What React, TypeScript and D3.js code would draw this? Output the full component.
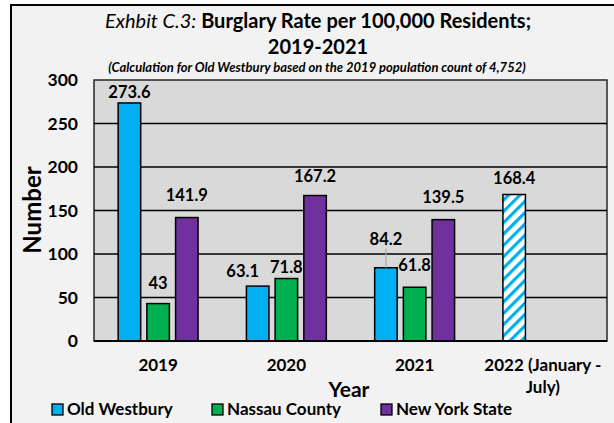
import React from "react";
import * as d3 from "d3";

const categories = ["2019", "2020", "2021", "2022 (January - July)"];
const categoryLines = [["2019"], ["2020"], ["2021"], ["2022 (January -", "July)"]];
const seriesNames = ["Old Westbury", "Nassau County", "New York State"];
const oldWestbury = [273.6, 63.1, 84.2, 168.4];
const nassauCounty = [43, 71.8, 61.8, null];
const newYorkState = [141.9, 167.2, 139.5, null];
const yTicks = [0, 50, 100, 150, 200, 250, 300];

// label placement tweaks (pixels), separate from data
const labelLift = [
  [5, 9, 23, 10],
  [15, 6, 16, 0],
  [17, 14, 17, 0],
];
const labelShift = [
  [0, -15, 0, 0],
  [0, 0, 0, 0],
  [0, 0, 0, 0],
];

const colors = ["#00b0f0", "#00b050", "#7030a0"];
const FONT = "Lato, 'Open Sans', sans-serif";

export default function App() {
  const W = 614, H = 423;
  const plot = { left: 94, right: 607, top: 80, bottom: 341 };
  const x = d3.scaleBand<string>().domain(categories).range([plot.left, plot.right]);
  const x1 = d3
    .scaleBand<string>()
    .domain(seriesNames)
    .range([-43.05, 43.05])
    .paddingInner(0.216)
    .paddingOuter(0.108);
  const y = d3.scaleLinear().domain([0, 300]).range([plot.bottom, plot.top]);
  const allSeries = [oldWestbury, nassauCounty, newYorkState];

  return (
    <div style={{ position: "fixed", left: 0, top: 0 }}>
      <svg width={W} height={H} style={{ display: "block", fontFamily: FONT }}>
        <defs>
          <pattern id="hatch" patternUnits="userSpaceOnUse" width="8" height="8" patternTransform="rotate(45)">
            <rect width="8" height="8" fill="#ffffff" />
            <rect x="0" y="0" width="3.2" height="8" fill="#00b0f0" />
          </pattern>
        </defs>
        <rect x={0} y={0} width={W} height={H} fill="#ffffff" />
        <rect x={11} y={5} width={W + 10} height={H + 10} fill="#f2f2f2" stroke="#000" strokeWidth={2} />
        {/* title */}
        <text x={318} y={28} textAnchor="middle" fontSize={20} fill="#000">
          <tspan fontStyle="italic">Exhbit C.3:</tspan>
          <tspan fontWeight="bold"> Burglary Rate per 100,000 Residents;</tspan>
        </text>
        <text x={318} y={54} textAnchor="middle" fontSize={20} fontWeight="bold" fill="#000">
          2019-2021
        </text>
        <text x={317} y={72} textAnchor="middle" fontSize={13} fontWeight="bold" fontStyle="italic" fill="#000">
          (Calculation for Old Westbury based on the 2019 population count of 4,752)
        </text>
        {/* plot area */}
        <rect
          x={plot.left}
          y={plot.top}
          width={plot.right - plot.left}
          height={plot.bottom - plot.top}
          fill="#d9d9d9"
          stroke="#262626"
          strokeWidth={1.5}
        />
        {yTicks.map((t) => (
          <g key={t}>
            {t > 0 && t < 300 && (
              <line x1={plot.left} x2={plot.right} y1={y(t)} y2={y(t)} stroke="#000" strokeWidth={1.3} />
            )}
            <text x={78} y={y(t) + 6} textAnchor="end" fontSize={17.5} fontWeight="bold" fill="#000">
              {t}
            </text>
          </g>
        ))}
        {/* bars */}
        {allSeries.map((vals, si) =>
          vals.map((v, ci) => {
            if (v == null) return null;
            const cat = categories[ci];
            const cx = (x(cat) as number) + x.bandwidth() / 2;
            const bx = cx + (x1(seriesNames[si]) as number);
            const bw = x1.bandwidth();
            const hatched = ci === 3;
            return (
              <rect
                key={`${si}-${ci}`}
                x={bx}
                y={y(v)}
                width={bw}
                height={y(0) - y(v)}
                fill={hatched ? "url(#hatch)" : colors[si]}
                stroke="#000"
                strokeWidth={1.5}
              />
            );
          })
        )}
        <line x1={plot.left} x2={plot.right} y1={y(0)} y2={y(0)} stroke="#000" strokeWidth={2} />
        {/* leader line for 84.2 */}
        {(() => {
          const cx = (x(categories[2]) as number) + x.bandwidth() / 2 + (x1(seriesNames[0]) as number) + x1.bandwidth() / 2;
          return <line x1={cx} x2={cx} y1={y(oldWestbury[2]) - labelLift[0][2] + 4} y2={y(oldWestbury[2])} stroke="#a6a6a6" strokeWidth={1.2} />;
        })()}
        {/* value labels */}
        {allSeries.map((vals, si) =>
          vals.map((v, ci) => {
            if (v == null) return null;
            const cat = categories[ci];
            const cx = (x(cat) as number) + x.bandwidth() / 2 + (x1(seriesNames[si]) as number) + x1.bandwidth() / 2;
            return (
              <text
                key={`l-${si}-${ci}`}
                x={cx + labelShift[si][ci]}
                y={y(v) - labelLift[si][ci]}
                textAnchor="middle"
                fontSize={16.5}
                fontWeight="bold"
                fill="#000"
              >
                {String(v)}
              </text>
            );
          })
        )}
        {/* category labels */}
        {categories.map((c, ci) => {
          const cx = (x(c) as number) + x.bandwidth() / 2;
          return (
            <text key={c} x={cx} y={371} textAnchor="middle" fontSize={17} fontWeight="bold" fill="#000">
              {categoryLines[ci].map((ln, li) => (
                <tspan key={li} x={cx} dy={li === 0 ? 0 : 22}>
                  {ln}
                </tspan>
              ))}
            </text>
          );
        })}
        {/* axis titles */}
        <text x={349} y={397} textAnchor="middle" fontSize={21} fontWeight="bold" fill="#000">
          Year
        </text>
        <text
          transform={`translate(41, 210) rotate(-90)`}
          textAnchor="middle"
          fontSize={24}
          fontWeight="bold"
          fill="#000"
        >
          Number
        </text>
        {/* legend */}
        {seriesNames.map((s, i) => {
          const lx = [52, 212, 381][i];
          return (
            <g key={s}>
              <rect x={lx} y={404} width={11} height={11} fill={colors[i]} stroke="#000" strokeWidth={1.3} />
              <text x={lx + 15} y={415} fontSize={17} fontWeight="bold" fill="#000">
                {s}
              </text>
            </g>
          );
        })}
      </svg>
    </div>
  );
}
